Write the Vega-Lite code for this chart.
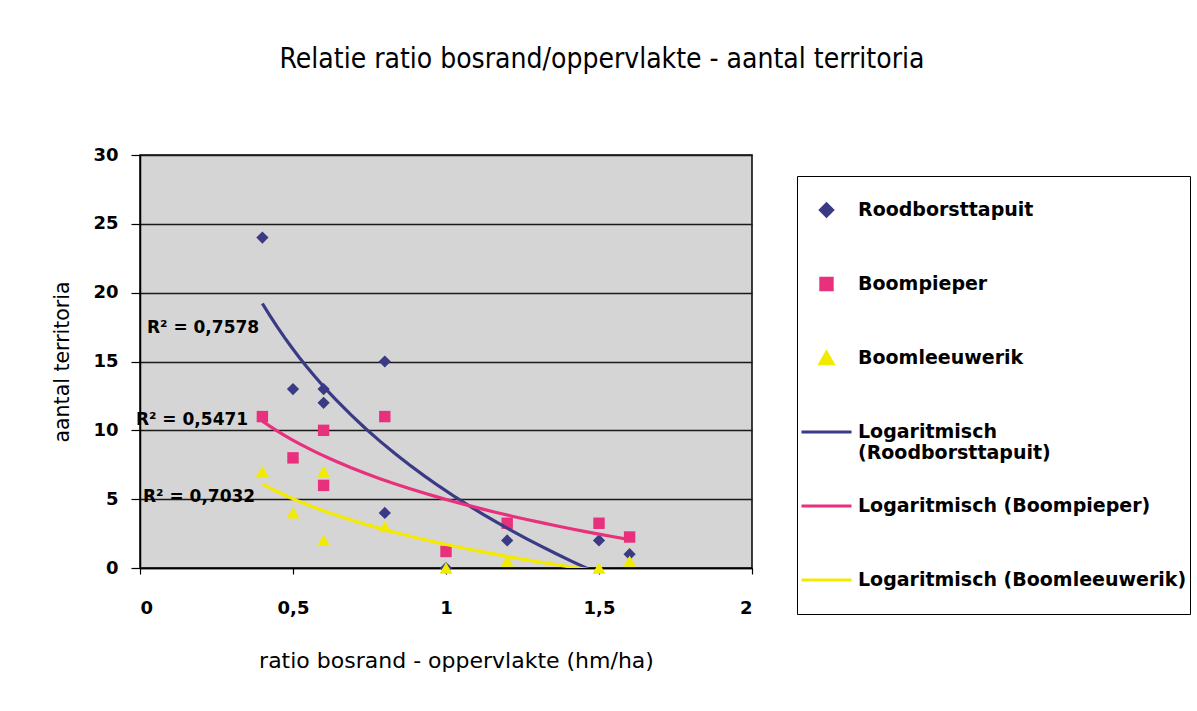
{
  "$schema": "https://vega.github.io/schema/vega-lite/v6.json",
  "width": 612,
  "height": 413,
  "autosize": "none",
  "padding": {"left": 140, "top": 155, "right": 445, "bottom": 143},
  "background": "white",
  "title": {
    "text": "Relatie ratio bosrand/oppervlakte - aantal territoria",
    "font": "Liberation Sans Narrow, DejaVu Sans Condensed, Open Sans",
    "fontSize": 28,
    "fontWeight": "normal",
    "color": "black",
    "anchor": "middle",
    "dx": 156,
    "offset": 72
  },
  "datasets": {
    "punten": [
      {"soort": "Roodborsttapuit", "x": 0.4, "y": 24},
      {"soort": "Roodborsttapuit", "x": 0.5, "y": 13},
      {"soort": "Roodborsttapuit", "x": 0.6, "y": 13},
      {"soort": "Roodborsttapuit", "x": 0.6, "y": 12},
      {"soort": "Roodborsttapuit", "x": 0.8, "y": 15},
      {"soort": "Roodborsttapuit", "x": 0.8, "y": 4},
      {"soort": "Roodborsttapuit", "x": 1.0, "y": 0},
      {"soort": "Roodborsttapuit", "x": 1.2, "y": 2},
      {"soort": "Roodborsttapuit", "x": 1.5, "y": 2},
      {"soort": "Roodborsttapuit", "x": 1.6, "y": 1},
      {"soort": "Boompieper", "x": 0.4, "y": 11},
      {"soort": "Boompieper", "x": 0.5, "y": 8},
      {"soort": "Boompieper", "x": 0.6, "y": 10},
      {"soort": "Boompieper", "x": 0.6, "y": 6},
      {"soort": "Boompieper", "x": 0.8, "y": 11},
      {"soort": "Boompieper", "x": 1.0, "y": 1.2},
      {"soort": "Boompieper", "x": 1.2, "y": 3.25},
      {"soort": "Boompieper", "x": 1.5, "y": 3.25},
      {"soort": "Boompieper", "x": 1.6, "y": 2.25},
      {"soort": "Boomleeuwerik", "x": 0.4, "y": 7},
      {"soort": "Boomleeuwerik", "x": 0.5, "y": 4},
      {"soort": "Boomleeuwerik", "x": 0.6, "y": 7},
      {"soort": "Boomleeuwerik", "x": 0.6, "y": 2},
      {"soort": "Boomleeuwerik", "x": 0.8, "y": 3},
      {"soort": "Boomleeuwerik", "x": 1.0, "y": 0},
      {"soort": "Boomleeuwerik", "x": 1.2, "y": 0.5},
      {"soort": "Boomleeuwerik", "x": 1.5, "y": 0},
      {"soort": "Boomleeuwerik", "x": 1.6, "y": 0.5}
    ],
    "r2": [
      {"x": 0.206, "y": 17.4, "tekst": "R² = 0,7578"},
      {"x": 0.17, "y": 10.75, "tekst": "R² = 0,5471"},
      {"x": 0.193, "y": 5.16, "tekst": "R² = 0,7032"}
    ]
  },
  "config": {
    "view": {"fill": "#d5d5d5", "stroke": "black", "strokeWidth": 1.5},
    "axis": {
      "domainColor": "black",
      "domainWidth": 1.5,
      "tickColor": "black",
      "tickWidth": 1.2,
      "labelFont": "DejaVu Sans",
      "labelFontSize": 18,
      "labelFontWeight": "bold",
      "labelColor": "black",
      "titleFont": "DejaVu Sans",
      "titleFontWeight": "normal",
      "titleColor": "black"
    }
  },
  "layer": [
    {
      "data": {"name": "punten"},
      "mark": {"type": "point", "filled": true, "opacity": 1},
      "encoding": {
        "x": {
          "field": "x", "type": "quantitative",
          "scale": {"domain": [0, 2], "nice": false, "zero": true},
          "axis": {
            "title": "ratio bosrand - oppervlakte (hm/ha)",
            "titleFontSize": 22,
            "titlePadding": 33,
            "titleX": 316,
            "values": [0, 0.5, 1, 1.5, 2],
            "format": "~r",
            "grid": false,
            "tickSize": 6,
            "labelPadding": 25,
            "labelExpr": "replace(datum.label, '.', ',')"
          }
        },
        "y": {
          "field": "y", "type": "quantitative",
          "scale": {"domain": [0, 30], "nice": false},
          "axis": {
            "title": "aantal territoria",
            "titleFontSize": 20.5,
            "titlePadding": 20,
            "values": [0, 5, 10, 15, 20, 25, 30],
            "grid": true,
            "gridColor": "#1a1a1a",
            "gridWidth": 1.3,
            "tickSize": 9,
            "labelPadding": 13
          }
        },
        "color": {
          "field": "soort", "type": "nominal",
          "scale": {
            "domain": ["Roodborsttapuit", "Boompieper", "Boomleeuwerik", "Logaritmisch (Roodborsttapuit)", "Logaritmisch (Boompieper)", "Logaritmisch (Boomleeuwerik)"],
            "range": ["#3a3a85", "#e8307c", "#f2ea00", "#3a3a85", "#e8307c", "#f2ea00"]
          },
          "legend": {
            "title": null, "orient": "none", "legendX": 657, "legendY": 21,
            "padding": 3, "rowPadding": 12, "clipHeight": 62, "strokeColor": "black", "fillColor": "white",
            "symbolStrokeWidth": 3,
            "labelFont": "DejaVu Sans", "labelFontSize": 19, "labelFontWeight": "bold", "labelColor": "black",
            "labelOffset": 5, "labelLimit": 500,
            "labelExpr": "datum.value == 'Logaritmisch (Roodborsttapuit)' ? ['Logaritmisch', '(Roodborsttapuit)'] : datum.label",
            "encode": {
              "symbols": {"update": {"stroke": {"scale": "color", "field": "value"}, "strokeWidth": {"signal": "indexof(datum.value, 'Logaritmisch') == 0 ? 3 : 0"}}},
              "labels": {"update": {"lineHeight": {"value": 21}}}
            }
          }
        },
        "shape": {
          "field": "soort", "type": "nominal",
          "scale": {
            "domain": ["Roodborsttapuit", "Boompieper", "Boomleeuwerik", "Logaritmisch (Roodborsttapuit)", "Logaritmisch (Boompieper)", "Logaritmisch (Boomleeuwerik)"],
            "range": ["diamond", "square", "triangle-up", "stroke", "stroke", "stroke"]
          },
          "legend": {
            "title": null, "orient": "none", "legendX": 657, "legendY": 21,
            "padding": 3, "rowPadding": 12, "clipHeight": 62, "strokeColor": "black", "fillColor": "white",
            "symbolStrokeWidth": 3,
            "labelFont": "DejaVu Sans", "labelFontSize": 19, "labelFontWeight": "bold", "labelColor": "black",
            "labelOffset": 5, "labelLimit": 500,
            "labelExpr": "datum.value == 'Logaritmisch (Roodborsttapuit)' ? ['Logaritmisch', '(Roodborsttapuit)'] : datum.label",
            "encode": {
              "symbols": {"update": {"stroke": {"scale": "color", "field": "value"}, "strokeWidth": {"signal": "indexof(datum.value, 'Logaritmisch') == 0 ? 3 : 0"}}},
              "labels": {"update": {"lineHeight": {"value": 21}}}
            }
          }
        },
        "size": {
          "field": "soort", "type": "nominal",
          "scale": {
            "type": "ordinal",
            "domain": ["Roodborsttapuit", "Boompieper", "Boomleeuwerik", "Logaritmisch (Roodborsttapuit)", "Logaritmisch (Boompieper)", "Logaritmisch (Boomleeuwerik)"],
            "range": [150, 130, 170, 2500, 2500, 2500]
          },
          "legend": {
            "title": null, "orient": "none", "legendX": 657, "legendY": 21,
            "padding": 3, "rowPadding": 12, "clipHeight": 62, "strokeColor": "black", "fillColor": "white",
            "symbolStrokeWidth": 3,
            "labelFont": "DejaVu Sans", "labelFontSize": 19, "labelFontWeight": "bold", "labelColor": "black",
            "labelOffset": 5, "labelLimit": 500,
            "labelExpr": "datum.value == 'Logaritmisch (Roodborsttapuit)' ? ['Logaritmisch', '(Roodborsttapuit)'] : datum.label",
            "encode": {
              "symbols": {"update": {"stroke": {"scale": "color", "field": "value"}, "strokeWidth": {"signal": "indexof(datum.value, 'Logaritmisch') == 0 ? 3 : 0"}}},
              "labels": {"update": {"lineHeight": {"value": 21}}}
            }
          }
        }
      }
    },
    {
      "data": {"name": "punten"},
      "transform": [
        {"regression": "y", "on": "x", "groupby": ["soort"], "method": "log", "extent": [0.4, 1.6]}
      ],
      "mark": {"type": "line", "strokeWidth": 3.2, "clip": true},
      "encoding": {
        "x": {"field": "x", "type": "quantitative"},
        "y": {"field": "y", "type": "quantitative"},
        "color": {"field": "soort", "type": "nominal", "legend": null}
      }
    },
    {
      "data": {"name": "r2"},
      "mark": {"type": "text", "font": "DejaVu Sans", "fontWeight": "bold", "fontSize": 17, "align": "center", "baseline": "middle", "color": "black"},
      "encoding": {
        "x": {"field": "x", "type": "quantitative"},
        "y": {"field": "y", "type": "quantitative"},
        "text": {"field": "tekst", "type": "nominal"}
      }
    }
  ]
}
